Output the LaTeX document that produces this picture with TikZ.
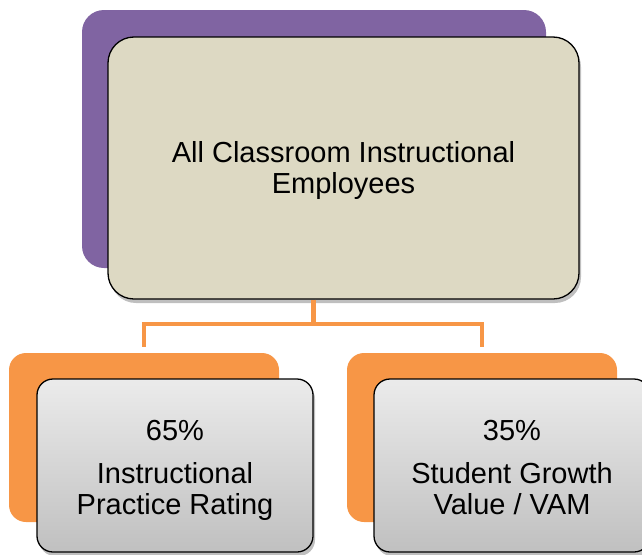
\documentclass[tikz,border=0pt]{standalone}
\usepackage{fontspec}
\setmainfont{Liberation Sans}
\usetikzlibrary{shadows}
\definecolor{purp}{HTML}{8064A2}
\definecolor{beige}{HTML}{DDD9C3}
\definecolor{orng}{HTML}{F79646}
\definecolor{gtop}{HTML}{EBEBEB}
\definecolor{gbot}{HTML}{C0C0C0}
\newcommand{\lnstrut}[1]{\rule{0pt}{#1}}
\tikzset{
  backbox/.style={rounded corners=17pt, inner sep=0pt},
  frontbox/.style={draw=black, line width=1.3pt, rounded corners=16pt, inner sep=0pt, align=center,
    font=\fontsize{29}{31}\selectfont,
    drop shadow={shadow xshift=2pt, shadow yshift=-4pt, opacity=0.25, fill=black}},
  conn/.style={draw=orng, line width=4.5pt},
}
\begin{document}
\begin{tikzpicture}[x=1pt,y=-1pt]
\useasboundingbox (0,0) rectangle (642,554);
\clip (0,0) rectangle (642,554);
% top
\node[backbox, fill=purp, minimum width=464pt, minimum height=258pt, rounded corners=22pt] (pback) at (314,139) {};
\node[frontbox, fill=beige, minimum width=471pt, minimum height=262pt, rounded corners=26pt] (top) at (343.5,168) {\lnstrut{29pt}All Classroom Instructional\\Employees\strut};
% bottom backs
\node[backbox, fill=orng, minimum width=270pt, minimum height=169pt] (lback) at (144,437.5) {};
\node[backbox, fill=orng, minimum width=270pt, minimum height=169pt] (rback) at (482,437.5) {};
% connectors
\coordinate (j) at (313.5,324);
\draw[conn] (j |- top.south) -- (j);
\draw[conn] ([xshift=-2.25pt]j -| lback.north) -- ([xshift=2.25pt]j -| rback.north);
\draw[conn] (j -| lback.north) -- ([yshift=6pt]lback.north);
\draw[conn] (j -| rback.north) -- ([yshift=6pt]rback.north);
% bottom fronts
\node[frontbox, top color=gtop, bottom color=gbot, minimum width=276pt, minimum height=173pt] (left) at (175,465.5) {\lnstrut{33pt}65\%\\[12pt]Instructional\strut\\Practice Rating\strut};
\node[frontbox, top color=gtop, bottom color=gbot, minimum width=276pt, minimum height=173pt] (right) at (512,465.5) {\lnstrut{33pt}35\%\\[12pt]Student Growth\strut\\Value / VAM\strut};
\end{tikzpicture}
\end{document}
